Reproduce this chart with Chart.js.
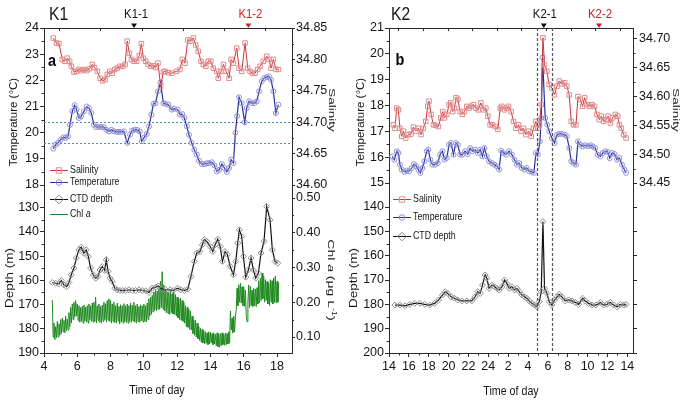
<!DOCTYPE html>
<html><head><meta charset="utf-8">
<script src="https://cdn.jsdelivr.net/npm/chart.js@4.4.1/dist/chart.umd.min.js"></script>
<style>
html,body{margin:0;padding:0;background:#fff;width:685px;height:404px;overflow:hidden}
canvas{position:absolute;left:0;top:0}
</style></head><body>
<canvas id="c1" width="685" height="404"></canvas>
<canvas id="c2" width="685" height="404"></canvas>
<canvas id="c3" width="685" height="404"></canvas>
<canvas id="c4" width="685" height="404"></canvas>
<script>
// ---------------- DATA ----------------
// K1 (panel a)
const k1SalTime = [4.56,4.76,4.90,5.10,5.24,5.40,5.54,5.64,5.80,5.94,6.10,6.24,6.40,6.56,6.72,6.90,7.04,7.20,7.37,7.53,7.67,7.80,7.95,8.10,8.25,8.40,8.57,8.73,8.87,9.00,9.13,9.25,9.41,9.57,9.72,9.85,9.97,10.11,10.25,10.41,10.57,10.71,10.85,11.01,11.17,11.27,11.47,11.67,11.97,12.17,12.31,12.47,12.64,12.77,12.97,13.12,13.27,13.43,13.57,13.72,13.87,14.02,14.17,14.38,14.47,14.64,14.78,14.94,15.12,15.24,15.38,15.58,15.72,15.88,16.08,16.24,16.38,16.52,16.68,16.84,16.98,17.18,17.38,17.52,17.64,17.78,17.94,18.08];
const k1Sal = [34.834,34.826,34.825,34.800,34.797,34.802,34.797,34.789,34.780,34.781,34.784,34.782,34.784,34.782,34.785,34.792,34.787,34.781,34.770,34.766,34.768,34.776,34.781,34.778,34.784,34.786,34.789,34.789,34.792,34.829,34.810,34.800,34.797,34.797,34.806,34.825,34.802,34.797,34.792,34.789,34.790,34.787,34.794,34.757,34.780,34.781,34.779,34.778,34.781,34.784,34.800,34.794,34.831,34.829,34.834,34.823,34.813,34.797,34.792,34.789,34.797,34.797,34.786,34.781,34.770,34.781,34.792,34.781,34.770,34.800,34.794,34.818,34.786,34.781,34.826,34.786,34.781,34.778,34.778,34.784,34.789,34.797,34.805,34.800,34.786,34.800,34.784,34.784];
const k1TempTime = [4.56,4.70,4.84,5.00,5.16,5.30,5.44,5.56,5.70,5.84,5.96,6.10,6.24,6.40,6.56,6.70,6.84,7.00,7.14,7.30,7.44,7.60,7.74,7.90,8.04,8.20,8.37,8.50,8.65,8.80,9.00,9.17,9.30,9.45,9.60,9.75,9.87,10.00,10.17,10.31,10.45,10.57,10.71,10.85,11.00,11.17,11.30,11.47,11.67,11.83,12.03,12.17,12.31,12.43,12.58,12.71,12.87,13.03,13.18,13.31,13.48,13.63,13.78,13.92,14.08,14.24,14.38,14.52,14.68,14.84,14.98,15.12,15.24,15.38,15.50,15.60,15.72,15.88,16.06,16.18,16.32,16.48,16.64,16.78,16.92,17.08,17.24,17.38,17.52,17.64,17.78,17.93,18.08];
const k1Temp = [19.39,19.54,19.61,19.73,19.82,19.80,19.86,20.30,20.82,21.05,20.88,20.56,20.63,20.82,21.00,20.94,20.75,20.30,20.21,20.22,20.22,20.21,20.11,20.05,20.11,20.05,20.03,20.03,20.03,20.05,19.61,19.92,20.08,20.11,20.11,20.05,19.67,19.80,19.95,20.24,20.69,21.10,21.13,21.58,21.92,21.13,21.10,21.07,20.88,20.92,20.88,20.69,20.71,20.56,20.24,19.92,19.61,19.35,19.16,18.93,18.80,18.80,18.83,18.84,18.87,18.75,18.52,18.58,18.80,18.65,18.50,18.65,18.97,18.84,20.00,20.63,21.35,21.13,20.40,20.94,21.20,21.13,21.13,21.20,21.58,21.96,22.09,22.12,22.15,22.02,21.58,20.75,21.07];
const k1DepthTime = [4.50,4.70,4.90,5.04,5.20,5.36,5.50,5.64,5.80,5.94,6.10,6.24,6.40,6.54,6.66,6.80,6.96,7.10,7.24,7.37,7.50,7.65,7.74,7.85,7.97,8.10,8.25,8.40,8.57,8.73,8.91,9.10,9.30,9.50,9.70,9.90,10.11,10.31,10.50,10.71,10.87,11.10,11.30,11.57,11.77,12.03,12.23,12.43,12.64,12.83,13.03,13.18,13.37,13.51,13.63,13.78,13.98,14.14,14.28,14.44,14.58,14.72,14.88,15.02,15.18,15.38,15.52,15.64,15.74,15.88,15.98,16.12,16.28,16.44,16.58,16.72,16.88,17.04,17.22,17.38,17.58,17.72,17.88,18.04];
const k1Depth = [160.9,161.2,161.4,160.1,161.9,162.6,160.9,157.7,154.9,150.8,147.4,146.3,148.8,147.4,150.1,154.9,157.7,159.1,158.4,155.7,154.3,155.9,151.5,156.3,159.1,160.5,163.2,163.9,164.2,164.2,164.2,163.9,164.2,164.2,163.9,164.2,164.3,165.0,163.2,162.8,162.3,163.6,163.8,163.9,164.2,163.2,163.9,164.2,163.6,158.4,152.2,148.7,148.1,145.3,143.2,143.9,146.0,148.1,145.3,143.0,146.0,152.2,148.1,149.4,154.2,157.7,152.2,144.6,139.1,141.9,150.1,158.7,155.7,150.8,155.7,159.1,157.0,148.7,143.9,129.5,135.0,147.4,152.2,152.9];
// Chl a record: one reading every chlStep hours starting at chlStart
const chlStart = 4.5, chlStep = 0.05;
const k1Chl = [
 0.206,0.100,0.140,0.092,0.130,0.098,0.145,0.100,0.138,0.105,
 0.150,0.110,0.155,0.115,0.148,0.112,0.160,0.118,0.152,0.120,
 0.170,0.130,0.185,0.140,0.195,0.150,0.200,0.158,0.205,0.160,
 0.195,0.148,0.190,0.142,0.185,0.145,0.188,0.140,0.192,0.146,0.186,0.143,0.190,0.140,0.195,0.150,0.190,0.145,0.198,0.143,
 0.200,0.145,0.215,0.140,0.190,0.148,0.195,0.142,0.188,0.140,0.192,0.145,0.200,0.150,0.196,0.143,0.205,0.148,0.210,0.145,
 0.205,0.140,0.195,0.145,0.200,0.142,0.190,0.140,0.198,0.146,0.188,0.138,0.193,0.143,0.190,0.140,0.196,0.145,0.190,0.142,
 0.195,0.140,0.190,0.145,0.198,0.142,0.192,0.146,0.200,0.143,0.190,0.140,0.195,0.145,0.188,0.142,0.193,0.146,0.190,0.143,
 0.195,0.145,0.190,0.143,0.198,0.150,0.210,0.160,0.215,0.165,0.220,0.172,0.230,0.178,0.235,0.175,0.232,0.180,0.238,0.180,
 0.260,0.185,0.288,0.180,0.250,0.175,0.235,0.170,0.230,0.168,0.228,0.165,0.232,0.170,0.225,0.166,0.230,0.165,0.222,0.160,
 0.215,0.155,0.210,0.150,0.212,0.148,0.205,0.145,0.200,0.140,0.190,0.130,0.185,0.128,0.180,0.122,0.175,0.120,0.160,0.110,
 0.150,0.105,0.148,0.100,0.140,0.095,0.130,0.090,0.125,0.085,0.122,0.083,0.118,0.080,0.115,0.082,0.112,0.078,0.115,0.080,
 0.114,0.083,0.110,0.078,0.112,0.080,0.108,0.075,0.112,0.072,0.108,0.070,0.110,0.075,0.112,0.078,0.108,0.076,0.112,0.078,
 0.110,0.080,0.115,0.082,0.175,0.120,0.155,0.112,0.160,0.115,0.158,0.180,0.240,0.190,0.250,0.200,0.255,0.198,0.245,0.190,
 0.244,0.188,0.235,0.160,0.144,0.200,0.250,0.185,0.245,0.190,0.235,0.188,0.240,0.190,0.238,0.188,0.242,0.195,0.262,0.198,
 0.270,0.205,0.284,0.210,0.275,0.200,0.265,0.205,0.260,0.195,0.255,0.190,0.265,0.200,0.262,0.195,0.270,0.200,0.275,0.198,
 0.260,0.200,0.255];
// K2 (panel b): time in hours from 14:00 of day 1 (24 = midnight, 38 = 14:00 next day)
const k2SalTime = [14.44,14.60,14.78,14.94,15.10,15.28,15.44,15.68,15.95,16.22,16.45,16.69,16.96,17.23,17.46,17.70,17.90,18.03,18.24,18.47,18.70,18.97,19.21,19.41,19.58,19.82,20.05,20.22,20.42,20.59,20.76,20.93,21.16,21.39,21.60,21.84,22.07,22.27,22.50,22.74,23.00,23.25,23.51,23.75,23.95,24.18,24.42,24.69,24.96,25.20,25.36,25.63,25.85,26.03,26.30,26.54,26.78,27.04,27.31,27.54,27.79,28.05,28.32,28.55,28.79,28.99,29.16,29.33,29.50,29.66,29.90,30.13,30.40,30.67,30.91,31.14,31.41,31.68,31.91,32.15,32.35,32.58,32.83,33.03,33.26,33.49,33.70,33.94,34.17,34.44,34.70,34.94,35.18,35.38,35.61,35.86,36.06,36.29,36.52,36.79,37.03,37.20,37.40,37.63,37.87];
const k2Sal = [34.551,34.545,34.580,34.577,34.545,34.531,34.540,34.528,34.534,34.535,34.547,34.540,34.545,34.534,34.545,34.557,34.583,34.592,34.569,34.551,34.550,34.548,34.563,34.574,34.563,34.569,34.586,34.589,34.574,34.580,34.598,34.595,34.574,34.569,34.574,34.583,34.580,34.583,34.586,34.580,34.577,34.589,34.577,34.580,34.566,34.551,34.551,34.548,34.543,34.580,34.583,34.577,34.580,34.583,34.574,34.557,34.545,34.551,34.540,34.545,34.534,34.540,34.531,34.545,34.557,34.545,34.551,34.586,34.702,34.655,34.644,34.621,34.615,34.603,34.618,34.627,34.622,34.624,34.618,34.603,34.557,34.551,34.551,34.600,34.595,34.583,34.598,34.586,34.583,34.586,34.583,34.569,34.560,34.566,34.557,34.560,34.566,34.554,34.563,34.569,34.566,34.551,34.545,34.534,34.528];
const k2TempTime = [14.33,14.53,14.78,14.94,15.10,15.28,15.54,15.78,16.02,16.29,16.52,16.75,16.96,17.16,17.36,17.56,17.80,17.96,18.17,18.37,18.64,18.91,19.14,19.38,19.58,19.82,20.05,20.25,20.49,20.73,20.93,21.16,21.39,21.66,21.93,22.17,22.40,22.67,22.94,23.18,23.41,23.61,23.85,24.08,24.36,24.62,24.86,25.09,25.29,25.53,25.77,26.10,26.37,26.64,26.88,27.11,27.38,27.64,27.88,28.12,28.39,28.59,28.79,28.99,29.20,29.33,29.46,29.73,29.93,30.13,30.40,30.67,30.91,31.14,31.41,31.68,31.91,32.15,32.35,32.58,32.83,33.03,33.26,33.49,33.76,34.03,34.27,34.50,34.77,35.01,35.28,35.52,35.78,36.02,36.22,36.46,36.72,36.96,37.20,37.47,37.70,37.87];
const k2Temp = [16.03,15.90,16.23,16.16,15.71,15.52,15.43,15.48,15.45,15.58,15.73,15.65,15.52,15.39,15.58,15.84,16.23,16.29,15.90,15.71,15.71,15.77,16.10,16.23,15.90,15.97,16.48,16.55,16.10,16.55,16.48,16.10,16.10,16.23,16.12,16.35,16.23,16.29,16.16,16.29,16.03,16.35,16.03,15.84,15.77,15.71,15.65,15.52,16.25,16.16,16.10,16.23,16.10,15.90,15.71,15.77,15.58,15.52,15.58,15.45,15.43,15.39,16.16,16.10,16.61,17.52,19.86,17.52,17.26,17.00,16.74,16.55,16.87,16.90,16.90,16.87,16.81,16.35,15.84,15.77,15.71,16.61,16.48,16.42,16.46,16.42,16.46,16.42,16.35,16.10,16.03,16.16,16.23,16.20,15.96,16.16,16.12,15.90,15.97,15.71,15.52,15.39];
const k2DepthTime = [14.60,15.10,15.60,16.10,16.60,17.10,17.60,18.10,18.60,19.00,19.38,19.65,19.92,20.25,20.59,20.93,21.33,21.84,22.34,22.67,22.94,23.18,23.41,23.68,23.85,24.08,24.36,24.62,24.86,25.09,25.36,25.63,25.87,26.10,26.37,26.64,26.88,27.11,27.38,27.64,27.88,28.12,28.39,28.65,28.89,29.13,29.33,29.50,29.66,29.90,30.13,30.40,30.67,30.91,31.14,31.41,31.75,32.08,32.42,32.76,33.10,33.50,33.76,34.10,34.44,34.85,35.28,35.61,35.95,36.29,36.62,36.96,37.29,37.63,37.87];
const k2Depth = [180.3,180.3,180.6,180.0,179.6,179.6,180.0,180.3,179.6,178.2,176.2,174.8,175.5,176.9,177.5,178.2,178.6,178.6,178.6,176.9,174.8,175.5,172.1,167.9,169.3,173.4,172.1,172.8,173.4,174.1,172.8,170.0,171.4,173.4,172.8,174.1,173.4,174.8,176.2,176.9,177.5,178.6,179.6,180.3,181.0,178.9,174.8,146.0,173.4,175.5,178.9,180.3,178.2,176.9,175.9,176.9,178.6,178.2,178.6,179.2,180.0,177.5,178.6,179.6,180.3,180.3,179.2,180.3,180.0,179.2,180.3,181.0,180.0,180.3,180.0];

// axis ticks and labels
const k1TimeTicks = [4,6,8,10,12,14,16,18];
const k1TimeMinor = [5,7,9,11,13,15,17];
const k1TopTicks = [4.9,7.38,9.86,12.34,14.82,17.3];
const k1TempTicks = [18,19,20,21,22,23,24];
const k1TempMinor = [18.5,19.5,20.5,21.5,22.5,23.5];
const k1SalTicks = [34.60,34.65,34.70,34.75,34.80,34.85];
const k1SalMinor = [34.625,34.675,34.725,34.775,34.825];
const k1DepthTicks = [130,140,150,160,170,180,190];
const k1DepthMinor = [135,145,155,165,175,185];
const k1ChlTicks = [0.10,0.20,0.30,0.40,0.50];
const k1ChlMinor = [0.15,0.25,0.35,0.45];
const k2TimeTicks = [14,16,18,20,22,24,26,28,30,32,34,36,38];
const k2TimeLabels = ['14','16','18','20','22','24','2','4','6','8','10','12','14'];
const k2TimeMinor = [15,17,19,21,23,25,27,29,31,33,35,37];
const k2TopTicks = [14.94,17.42,19.9,22.38,24.86,27.34,29.82,32.3,34.78,37.26];
const k2TempTicks = [15,16,17,18,19,20,21];
const k2TempMinor = [15.5,16.5,17.5,18.5,19.5,20.5];
const k2SalTicks = [34.45,34.50,34.55,34.60,34.65,34.70];
const k2SalMinor = [34.475,34.525,34.575,34.625,34.675];
const k2DepthTicks = [140,150,160,170,180,190,200];
const k2DepthMinor = [145,155,165,175,185,195];
// sampling events and reference levels
const k1EventLabels = ['K1-1','K1-2'];
const k1EventTimes = [9.41,16.28];
const k2EventLabels = ['K2-1','K2-2'];
const k2EventTimes = [29.59,35.15];
const eventColors = ['#111111','#cc2222'];
const k1RefTemps = [20.4,19.6];
const k2CastWindow = [28.9,30.4];

// ---------------- STYLE ----------------
const FR = "'Liberation Sans',Arial,sans-serif";
const AX = '#2a2a2a', TXT = '#151515';
const SAL_LINE='#c9363c', SAL_PT='#e08a8a', TEM_LINE='#2a2e9e', TEM_PT='#8f92d4', CTD_LINE='#111111', CTD_PT='#8c8c8c', CHL='#1f8a1f';
const TICKFONT = {family:FR,size:12.5};

function xy(t,v){return t.map((x,i)=>({x:x,y:v[i]}));}
function seg(ctx,x1,y1,x2,y2){ctx.beginPath();ctx.moveTo(x1,y1);ctx.lineTo(x2,y2);ctx.stroke();}
function htext(ctx,s,x,y,font,color,align,sx){ctx.save();ctx.translate(x,y);ctx.scale(sx||0.84,1);ctx.font=font;ctx.fillStyle=color||TXT;ctx.textAlign=align||'center';ctx.textBaseline='middle';ctx.fillText(s,0,0);ctx.restore();}
function vtitle(ctx,parts,cx,cy,rot,size,sq){
  ctx.save();ctx.translate(cx,cy);ctx.rotate(rot);ctx.scale(1,sq);
  ctx.fillStyle=TXT;ctx.textBaseline='middle';ctx.textAlign='left';
  const fonts=parts.map(p=>(p.it?'italic ':'')+(p.sup?Math.round(size*0.65):size)+'px '+FR);
  let w=0;parts.forEach((p,i)=>{ctx.font=fonts[i];w+=ctx.measureText(p.s).width;});
  let x=-w/2;
  parts.forEach((p,i)=>{ctx.font=fonts[i];ctx.fillText(p.s,x,p.sup?-size*0.32:0);x+=ctx.measureText(p.s).width;});
  ctx.restore();
}
function marker(ctx,style,x,y,r,color){
  ctx.save();ctx.strokeStyle=color;ctx.lineWidth=1;ctx.beginPath();
  if(style==='rect'){ctx.rect(x-r,y-r,2*r,2*r);}
  else if(style==='circle'){ctx.arc(x,y,r,0,Math.PI*2);}
  else {ctx.moveTo(x-r,y);ctx.lineTo(x,y-r);ctx.lineTo(x+r,y);ctx.lineTo(x,y+r);ctx.closePath();}
  ctx.stroke();ctx.restore();
}
function legendRow(ctx,x1,x2,y,lineColor,style,ptColor,r,label,tx,italicTail){
  ctx.save();ctx.strokeStyle=lineColor;ctx.lineWidth=1;seg(ctx,x1,y+0.5,x2,y+0.5);ctx.restore();
  if(style) marker(ctx,style,(x1+x2)/2,y+0.5,r,ptColor);
  ctx.save();ctx.translate(tx,y+0.5);ctx.scale(0.84,1);
  ctx.font='10.5px '+FR;ctx.fillStyle=TXT;ctx.textAlign='left';ctx.textBaseline='middle';
  ctx.fillText(label,0,0);
  if(italicTail){const w=ctx.measureText(label).width;ctx.font='italic 10.5px '+FR;ctx.fillText(italicTail,w,0);}
  ctx.restore();
}
function minorTicks(ctx,scale,vals,side,len){
  vals.forEach(v=>{const p=Math.round(scale.getPixelForValue(v))+0.5;
    if(side==='left') seg(ctx,scale.right,p,scale.right-len,p);
    else if(side==='right') seg(ctx,scale.left,p,scale.left+len,p);
    else seg(ctx,p,scale.top,p,scale.top+len);});
}
function triangle(ctx,x,yTop,color){ctx.save();ctx.fillStyle=color;ctx.beginPath();ctx.moveTo(x-3,yTop);ctx.lineTo(x+3,yTop);ctx.lineTo(x,yTop+4.5);ctx.closePath();ctx.fill();ctx.restore();}

function yAxis(pos,min,max,ticks,width,opts){
  opts=opts||{};
  return {
    type:'linear',position:pos,min:min,max:max,reverse:!!opts.reverse,
    afterFit:s=>{s.width=width;},
    afterBuildTicks:s=>{s.ticks=ticks.map(v=>({value:v}));},
    ticks:{font:TICKFONT,color:TXT,padding:opts.pad!=null?opts.pad:1,
      callback:opts.cb||(v=>String(v))},
    grid:{drawOnChartArea:false,drawTicks:true,tickLength:opts.tl||4,color:AX,tickColor:AX},
    border:{display:true,color:AX,width:1}
  };
}
function baseOptions(padTop,padBottom,scales){
  return {responsive:false,animation:false,events:[],
    layout:{padding:{top:padTop,bottom:padBottom,left:0,right:0}},
    plugins:{legend:{display:false},tooltip:{enabled:false}},
    scales:scales};
}
const salDS=(d,axis)=>({data:d,yAxisID:axis,borderColor:SAL_LINE,borderWidth:1,pointStyle:'rect',pointRadius:3.2,pointBorderColor:SAL_PT,pointBackgroundColor:'rgba(0,0,0,0)',pointBorderWidth:1,tension:0});
const temDS=(d,axis)=>({data:d,yAxisID:axis,borderColor:TEM_LINE,borderWidth:1.2,pointStyle:'circle',pointRadius:2.5,pointBorderColor:TEM_PT,pointBackgroundColor:'rgba(0,0,0,0)',pointBorderWidth:1,tension:0});
const ctdDS=(d,axis)=>({data:d,yAxisID:axis,borderColor:CTD_LINE,borderWidth:1.2,pointStyle:'rectRot',pointRadius:3,pointBorderColor:CTD_PT,pointBackgroundColor:'rgba(0,0,0,0)',pointBorderWidth:1,tension:0});

// ---------------- PANEL a, top ----------------
new Chart(document.getElementById('c1'),{
  type:'line',
  data:{datasets:[salDS(xy(k1SalTime,k1Sal),'y2'),temDS(xy(k1TempTime,k1Temp),'y')]},
  options:baseOptions(28,219,{
    x:{type:'linear',min:4,max:18.9,display:false},
    y:yAxis('left',18,24,k1TempTicks,44),
    y2:yAxis('right',34.60,34.85,k1SalTicks,393,{tl:3,pad:1,cb:v=>v.toFixed(2)})
  }),
  plugins:[{id:'a1',
    beforeDatasetsDraw(chart){const {ctx,chartArea:a,scales:{y}}=chart;ctx.save();ctx.strokeStyle='#3f8cc6';ctx.lineWidth=1;ctx.setLineDash([2,2]);
      k1RefTemps.forEach(v=>{const p=Math.round(y.getPixelForValue(v))+0.5;seg(ctx,a.left,p,a.right,p);});ctx.restore();},
    afterDraw(chart){const {ctx,chartArea:a,scales:{x,y,y2}}=chart;ctx.save();ctx.strokeStyle=AX;ctx.lineWidth=1;
      seg(ctx,a.left,a.top+0.5,a.right+1,a.top+0.5);
      seg(ctx,a.left+0.5,a.bottom,a.left+0.5,198);seg(ctx,a.right+0.5,a.bottom,a.right+0.5,198);
      k1TopTicks.forEach(t=>{const p=Math.round(x.getPixelForValue(t))+0.5;seg(ctx,p,a.top,p,a.top+3);});
      minorTicks(ctx,y,k1TempMinor,'left',2.5);minorTicks(ctx,y2,k1SalMinor,'right',2);
      ctx.restore();
      htext(ctx,'K1',49,15,'19px '+FR,TXT,'left',0.82);
      k1EventLabels.forEach((s,i)=>{const p=x.getPixelForValue(k1EventTimes[i]);htext(ctx,s,p+2,14,'13.5px '+FR,eventColors[i]);triangle(ctx,p,23.5,eventColors[i]);});
      htext(ctx,'a',52,61,'bold 17px '+FR,'#000','center',0.85);
      vtitle(ctx,[{s:'Temperature (°C)'}],14,122,-Math.PI/2,11.5,0.9);
      vtitle(ctx,[{s:'Salinity'}],331,110,Math.PI/2,13.5,0.65);
      legendRow(ctx,50,68,170,SAL_LINE,'rect',SAL_PT,2.7,'Salinity',70);
      legendRow(ctx,50,68,182,TEM_LINE,'circle',TEM_PT,2.8,'Temperature',70);
    }}]
});

// ---------------- PANEL a, bottom ----------------
new Chart(document.getElementById('c2'),{
  type:'line',
  data:{datasets:[
    ctdDS(xy(k1DepthTime,k1Depth),'y'),
    {data:k1Chl.map((v,i)=>({x:chlStart+i*chlStep,y:v})),yAxisID:'y2',borderColor:CHL,borderWidth:1,pointRadius:0,tension:0}
  ]},
  options:baseOptions(198,0,{
    x:{type:'linear',min:4,max:18.9,position:'bottom',
      afterFit:s=>{s.height=51;},afterBuildTicks:s=>{s.ticks=k1TimeTicks.map(v=>({value:v}));},
      ticks:{font:TICKFONT,color:TXT,padding:2,maxRotation:0},
      grid:{drawOnChartArea:false,drawTicks:true,tickLength:4,color:AX,tickColor:AX},border:{display:true,color:AX}},
    y:yAxis('left',126,190,k1DepthTicks,44,{reverse:true}),
    y2:yAxis('right',0.054,0.50,k1ChlTicks,393,{tl:3,pad:1,cb:v=>v.toFixed(2)})
  }),
  plugins:[{id:'a2',
    afterDraw(chart){const {ctx,chartArea:a,scales:{x,y,y2}}=chart;ctx.save();ctx.strokeStyle=AX;ctx.lineWidth=1;
      minorTicks(ctx,y,k1DepthMinor,'left',2.5);minorTicks(ctx,y2,k1ChlMinor,'right',2);minorTicks(ctx,x,k1TimeMinor,'bottom',2.5);
      ctx.restore();
      htext(ctx,'Time of day',157,390,'13px '+FR,TXT,'center',0.82);
      vtitle(ctx,[{s:'Depth (m)'}],10,278,-Math.PI/2,13.5,0.75);
      vtitle(ctx,[{s:'Chl '},{s:'a',it:true},{s:' (μg L'},{s:'-1',sup:true},{s:')'}],331,280,Math.PI/2,14,0.7);
      legendRow(ctx,50,68,199,CTD_LINE,'diamond',CTD_PT,4.3,'CTD depth',70);
      legendRow(ctx,50,68,214,CHL,null,null,0,'Chl ',70,'a');
    }}]
});

// ---------------- PANEL b, top ----------------
new Chart(document.getElementById('c3'),{
  type:'line',
  data:{datasets:[salDS(xy(k2SalTime,k2Sal),'y2'),temDS(xy(k2TempTime,k2Temp),'y')]},
  options:baseOptions(28,221,{
    x:{type:'linear',min:14,max:38.57,display:false},
    y:yAxis('left',15,21,k2TempTicks,389),
    y2:yAxis('right',34.45,34.719,k2SalTicks,52,{tl:4,pad:2,cb:v=>v.toFixed(2)})
  }),
  plugins:[{id:'b1',
    afterDraw(chart){const {ctx,chartArea:a,scales:{x,y,y2}}=chart;ctx.save();ctx.strokeStyle=AX;ctx.lineWidth=1;
      seg(ctx,a.left,a.top+0.5,a.right+1,a.top+0.5);
      seg(ctx,a.left+0.5,a.bottom,a.left+0.5,198);seg(ctx,a.right+0.5,a.bottom,a.right+0.5,198);
      k2TopTicks.forEach(t=>{const p=Math.round(x.getPixelForValue(t))+0.5;seg(ctx,p,a.top,p,a.top+3);});
      minorTicks(ctx,y,k2TempMinor,'left',2.5);minorTicks(ctx,y2,k2SalMinor,'right',2.5);
      ctx.strokeStyle='#555';ctx.lineWidth=1.2;ctx.setLineDash([3,2]);
      k2CastWindow.forEach(t=>{const p=Math.round(x.getPixelForValue(t))+0.5;seg(ctx,p,a.top,p,198);});
      ctx.restore();
      htext(ctx,'K2',391,15,'19px '+FR,TXT,'left',0.82);
      k2EventLabels.forEach((s,i)=>{const p=x.getPixelForValue(k2EventTimes[i]);htext(ctx,s,p+1,14,'13.5px '+FR,eventColors[i]);triangle(ctx,p,23.5,eventColors[i]);});
      htext(ctx,'b',400,60,'bold 17px '+FR,'#000','center',0.85);
      vtitle(ctx,[{s:'Temperature (°C)'}],361,122,-Math.PI/2,11.5,0.9);
      vtitle(ctx,[{s:'Salinity'}],675,110,Math.PI/2,13.5,0.65);
    }}]
});

// ---------------- PANEL b, bottom ----------------
new Chart(document.getElementById('c4'),{
  type:'line',
  data:{datasets:[ctdDS(xy(k2DepthTime,k2Depth),'y')]},
  options:baseOptions(198,0,{
    x:{type:'linear',min:14,max:38.57,position:'bottom',
      afterFit:s=>{s.height=51;},afterBuildTicks:s=>{s.ticks=k2TimeTicks.map(v=>({value:v}));},
      ticks:{font:TICKFONT,color:TXT,padding:2,maxRotation:0,autoSkip:false,
        callback:(v)=>k2TimeLabels[k2TimeTicks.indexOf(v)]},
      grid:{drawOnChartArea:false,drawTicks:true,tickLength:4,color:AX,tickColor:AX},border:{display:true,color:AX}},
    y:yAxis('left',136.3,200,k2DepthTicks,389,{reverse:true}),
    y2:yAxis('right',136.3,200,k2DepthTicks,52,{reverse:true,tl:4,cb:()=>''})
  }),
  plugins:[{id:'b2',
    afterDraw(chart){const {ctx,chartArea:a,scales:{x,y}}=chart;ctx.save();ctx.strokeStyle=AX;ctx.lineWidth=1;
      minorTicks(ctx,y,k2DepthMinor,'left',2.5);minorTicks(ctx,x,k2TimeMinor,'bottom',2.5);
      ctx.strokeStyle='#555';ctx.lineWidth=1.2;ctx.setLineDash([3,2]);
      k2CastWindow.forEach(t=>{const p=Math.round(x.getPixelForValue(t))+0.5;seg(ctx,p,a.top,p,a.bottom);});
      ctx.restore();
      htext(ctx,'Time of day',511,391,'13px '+FR,TXT,'center',0.82);
      vtitle(ctx,[{s:'Depth (m)'}],354,278,-Math.PI/2,13.5,0.75);
      legendRow(ctx,393,411,199,SAL_LINE,'rect',SAL_PT,2.7,'Salinity',413);
      legendRow(ctx,393,411,217,TEM_LINE,'circle',TEM_PT,2.8,'Temperature',413);
      legendRow(ctx,393,411,236,CTD_LINE,'diamond',CTD_PT,4.3,'CTD depth',413);
    }}]
});
</script>
</body></html>
